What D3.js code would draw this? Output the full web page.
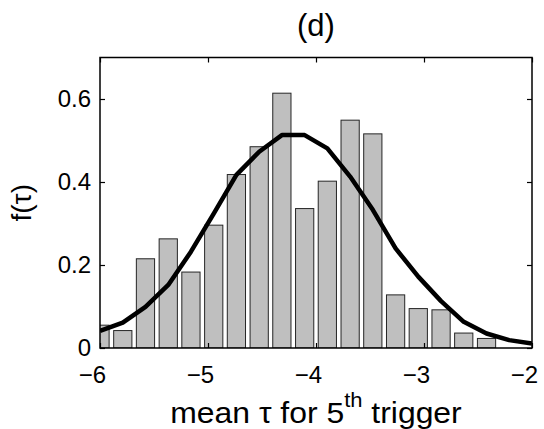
<!DOCTYPE html>
<html>
<head>
  <meta charset="utf-8">
  <title>(d)</title>
  <script src="https://d3js.org/d3.v7.min.js"></script>
  <style>
    body { margin: 0; background: #fff; }
    text { font-family: "Liberation Sans", Arial, Helvetica, sans-serif; fill: #000; }
  </style>
</head>
<body>
<script>
const width = 544;
const height = 429;

// bin centres of the histogram (20 bins from -6 to -2)
const binCenters = [-6, -5.789, -5.579, -5.368, -5.158, -4.947, -4.737, -4.526, -4.316, -4.105,
                    -3.895, -3.684, -3.474, -3.263, -3.053, -2.842, -2.632, -2.421, -2.211, -2];
// normalised counts
const freq = [0.055, 0.042, 0.215, 0.263, 0.183, 0.296, 0.418, 0.485, 0.614, 0.336,
              0.402, 0.549, 0.516, 0.128, 0.095, 0.092, 0.036, 0.023, 0, 0];
// fitted density at the same centres
const fitCurve = [0.041, 0.061, 0.099, 0.152, 0.232, 0.324, 0.417, 0.473, 0.513, 0.513,
                  0.481, 0.413, 0.333, 0.240, 0.172, 0.113, 0.063, 0.035, 0.019, 0.011];
const xTicks = [-6, -5, -4, -3, -2];
const yTicks = [0, 0.2, 0.4, 0.6];

const margin = {top: 57.5, right: 12, bottom: 81, left: 100};
const w = width - margin.left - margin.right;
const h = height - margin.top - margin.bottom;

const svg = d3.select('body').append('svg')
  .attr('width', width)
  .attr('height', height);

const g = svg.append('g')
  .attr('transform', `translate(${margin.left},${margin.top})`);

const x = d3.scaleLinear().domain([-6, -2]).range([0, w]);
const y = d3.scaleLinear().domain([0, 0.7]).range([h, 0]);

g.append('clipPath').attr('id', 'plotclip')
  .append('rect').attr('width', w).attr('height', h);

const plot = g.append('g').attr('clip-path', 'url(#plotclip)');

const barW = x(binCenters[1]) - x(binCenters[0]);
plot.selectAll('rect.bar')
  .data(binCenters)
  .enter()
  .append('rect')
  .attr('class', 'bar')
  .attr('x', d => x(d) - barW * 0.4)
  .attr('y', (d, i) => y(freq[i]))
  .attr('width', barW * 0.8)
  .attr('height', (d, i) => h - y(freq[i]))
  .attr('fill', '#bfbfbf')
  .attr('stroke', '#262626')
  .attr('stroke-width', 1);

const line = d3.line()
  .x((d, i) => x(binCenters[i]))
  .y(d => y(d));

plot.append('path')
  .datum(fitCurve)
  .attr('d', line)
  .attr('fill', 'none')
  .attr('stroke', '#000')
  .attr('stroke-width', 4.5)
  .attr('stroke-linejoin', 'round');

// axes, ticks pointing inwards
const fmt = d3.format('');
const xAxis = g.append('g')
  .attr('transform', `translate(0,${h})`)
  .call(d3.axisBottom(x).tickValues(xTicks).tickFormat(fmt)
    .tickSizeInner(-5).tickSizeOuter(0).tickPadding(18));
const xTop = g.append('g')
  .call(d3.axisTop(x).tickValues(xTicks).tickFormat('')
    .tickSizeInner(-5).tickSizeOuter(0));
const yAxis = g.append('g')
  .call(d3.axisLeft(y).tickValues(yTicks).tickFormat(d3.format('~g'))
    .tickSizeInner(-5).tickSizeOuter(0).tickPadding(9));
const yRight = g.append('g')
  .attr('transform', `translate(${w},0)`)
  .call(d3.axisRight(y).tickValues(yTicks).tickFormat('')
    .tickSizeInner(-5).tickSizeOuter(0));

[xAxis, xTop, yAxis, yRight].forEach(a => {
  a.select('.domain').remove();
  a.selectAll('line').attr('stroke', '#000').attr('stroke-width', 1.2);
  a.selectAll('text').style('font-size', '24px').attr('font-family', null);
});
xAxis.selectAll('text')
  .attr('dx', -8)
  .text(d => fmt(d).replace('-', '\u2212'));

g.append('rect')
  .attr('width', w).attr('height', h)
  .attr('fill', 'none')
  .attr('stroke', '#000')
  .attr('stroke-width', 1.5);

// title
svg.append('text')
  .attr('x', margin.left + w / 2)
  .attr('y', 35.5)
  .attr('text-anchor', 'middle')
  .style('font-size', '31px')
  .text('(d)');

// x label with superscript
const xl = svg.append('text')
  .attr('transform', `translate(${margin.left + w / 2},422.5) scale(1.1,1)`)
  .attr('text-anchor', 'middle')
  .style('font-size', '29px');
xl.append('tspan').text('mean \u03c4 for 5');
xl.append('tspan').attr('dy', -16).style('font-size', '20px').text('th');
xl.append('tspan').attr('dy', 16).text(' trigger');

// y label
svg.append('text')
  .attr('transform', `translate(31,${margin.top + h / 2}) rotate(-90)`)
  .attr('text-anchor', 'middle')
  .style('font-size', '28px')
  .text('f(\u03c4)');
</script>
</body>
</html>
